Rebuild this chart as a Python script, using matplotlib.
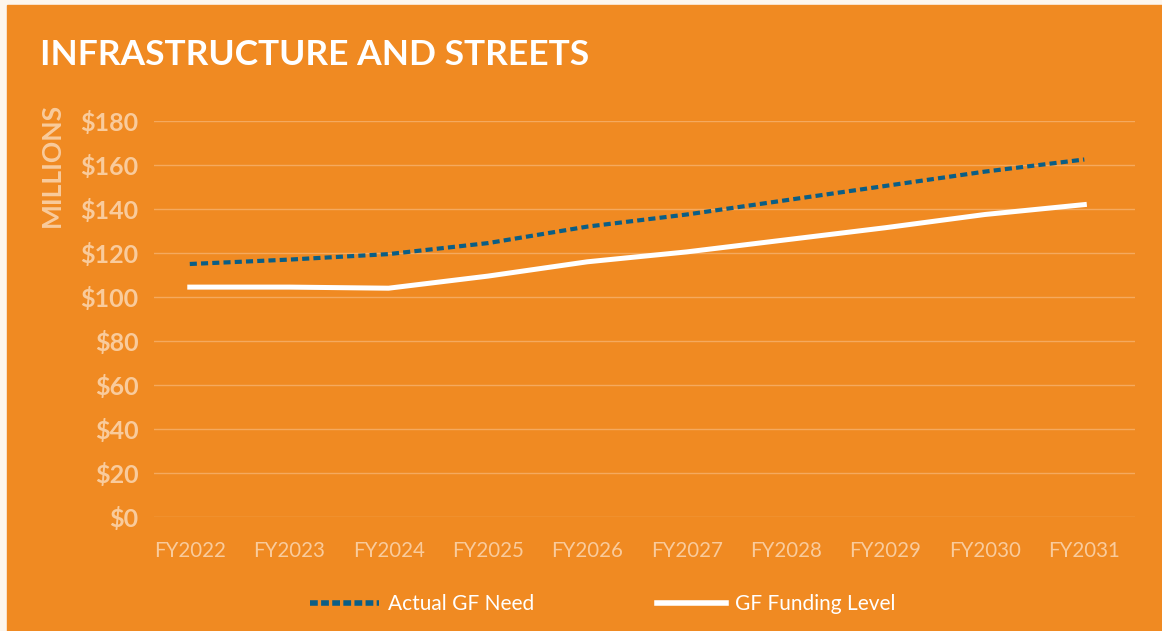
import matplotlib.pyplot as plt
from matplotlib.lines import Line2D

# Data ($ millions)
years = ['FY2022', 'FY2023', 'FY2024', 'FY2025', 'FY2026',
         'FY2027', 'FY2028', 'FY2029', 'FY2030', 'FY2031']
actual_need = [115, 117, 119.5, 124.5, 132, 137.5, 144, 150.5, 157, 162.5]
funding_level = [104.5, 104.5, 104, 109.5, 116, 120.5, 126, 131.5, 137.5, 142]
y_ticks = [0, 20, 40, 60, 80, 100, 120, 140, 160, 180]

orange = '#F08A22'
peach = '#F9CB9C'
grid_col = '#F5A95E'
blue = '#0B5E85'

plt.rcParams['font.family'] = ['Lato', 'DejaVu Sans']

fig = plt.figure(figsize=(11.62, 6.31), dpi=100)
fig.patch.set_facecolor('#FDF6EE')
# orange panel
fig.patches.append(plt.Rectangle((7 / 1162, 0), 1 - 7 / 1162, 1 - 5 / 631,
                                 transform=fig.transFigure, color=orange, zorder=-5))

ax = fig.add_axes([154 / 1162, (631 - 517) / 631, (1135 - 154) / 1162, (517 - 121) / 631])
ax.set_zorder(2)
ax.patch.set_alpha(0)
x = list(range(len(years)))
ax.plot(x, actual_need, color=blue, linewidth=3, linestyle=(0, (1.7, 1.0)),
        solid_capstyle='butt', zorder=3, clip_on=False)
ax.plot(x, funding_level, color='white', linewidth=3.6, zorder=3, clip_on=False)

ax.set_xlim(-0.36, 9.51)
ax.set_ylim(0, 180)
ax.set_yticks(y_ticks)
ax.set_yticklabels([f'${v}' for v in y_ticks], color=peach, fontsize=18, fontweight='bold')
ax.set_xticks(x)
ax.set_xticklabels(years, color=peach, fontsize=14.8)
ax.tick_params(axis='x', length=0, pad=17)
ax.tick_params(axis='y', length=0, pad=11)
ax.grid(axis='y', color=grid_col, linewidth=1)
ax.set_axisbelow(True)
for s in ax.spines.values():
    s.set_visible(False)

fig.text(40 / 1162, 1 - 55 / 631, 'INFRASTRUCTURE AND STREETS', color='white',
         fontsize=25.5, fontweight='bold', va='center', ha='left')
fig.text(52 / 1162, 1 - 165 / 631, 'MILLIONS', color=peach, fontsize=19,
         fontweight='bold', rotation=90, va='center', ha='center')

handles = [Line2D([], [], color=blue, linewidth=4, linestyle=(0, (1.4, 0.6))),
           Line2D([], [], color='white', linewidth=4)]
leg = fig.legend(handles, ['Actual GF Need', 'GF Funding Level'], loc='center',
                 bbox_to_anchor=(603 / 1162, 1 - 604 / 631), ncol=2, frameon=False,
                 fontsize=15, handlelength=3.3, columnspacing=5.9, handletextpad=0.45)
for t in leg.get_texts():
    t.set_color('white')

fig.savefig('out.png', dpi=100, facecolor=fig.get_facecolor())
